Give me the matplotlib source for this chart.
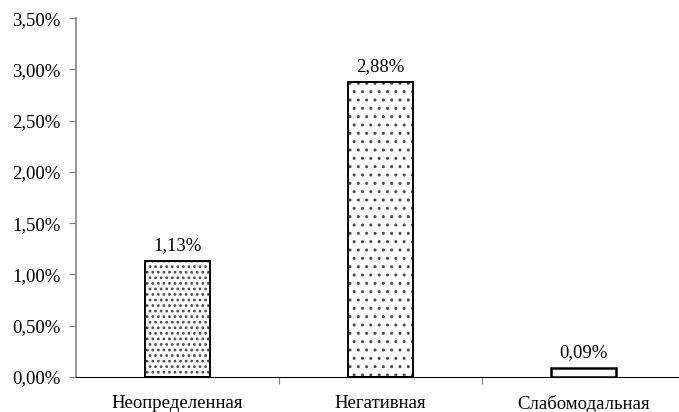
import matplotlib.pyplot as plt
from matplotlib.ticker import FuncFormatter

categories = ['Неопределенная', 'Негативная', 'Слабомодальная']
values = [1.13, 2.88, 0.09]
labels = ['1,13%', '2,88%', '0,09%']
hatches = ['...', '..', '']
hatch_widths = [1.2, 1.0, 1.0]

plt.rcParams['font.family'] = ['Liberation Serif', 'DejaVu Serif']

fig = plt.figure(figsize=(6.79, 4.12), dpi=100)
ax = fig.add_axes([0.112, 0.085, 0.888, 0.871])

x = range(len(categories))
bars = ax.bar(x, values, width=0.32, color='white', edgecolor='black',
              linewidth=1.4, hatch=hatches)
for b, hw in zip(bars, hatch_widths):
    b._hatch_color = (0.3, 0.3, 0.3, 1.0)
    if hasattr(b, 'set_hatch_linewidth'):
        b.set_hatch_linewidth(hw)
bars[2].set_linewidth(1.8)

for xi, v, lab in zip(x, values, labels):
    ax.annotate(lab, (xi, v), xytext=(0, 5), textcoords='offset points',
                ha='center', va='bottom', fontsize=13.5)

ax.set_xlim(-0.5, 2.47)
ax.set_ylim(0, 3.5)
ax.set_yticks([0, 0.5, 1.0, 1.5, 2.0, 2.5, 3.0, 3.5])
ax.yaxis.set_major_formatter(FuncFormatter(lambda v, p: f'{v:.2f}%'.replace('.', ',')))
ax.set_xticks([0.5, 1.5])
ax.set_xticklabels(['', ''])
for xi, c in zip(x, categories):
    ax.annotate(c, (xi, 0), xytext=(0, -13), textcoords='offset points',
                ha='center', va='top', fontsize=13.5, annotation_clip=False)

ax.spines['top'].set_visible(False)
ax.spines['right'].set_visible(False)
ax.spines['left'].set_color('#808080')
ax.spines['left'].set_linewidth(1.2)
ax.spines['bottom'].set_color('black')
ax.tick_params(axis='y', direction='out', length=5, colors='#808080',
               labelcolor='black', labelsize=13.5, pad=6)
ax.tick_params(axis='x', direction='out', length=5, colors='#808080')

fig.savefig('out.png', dpi=100)
